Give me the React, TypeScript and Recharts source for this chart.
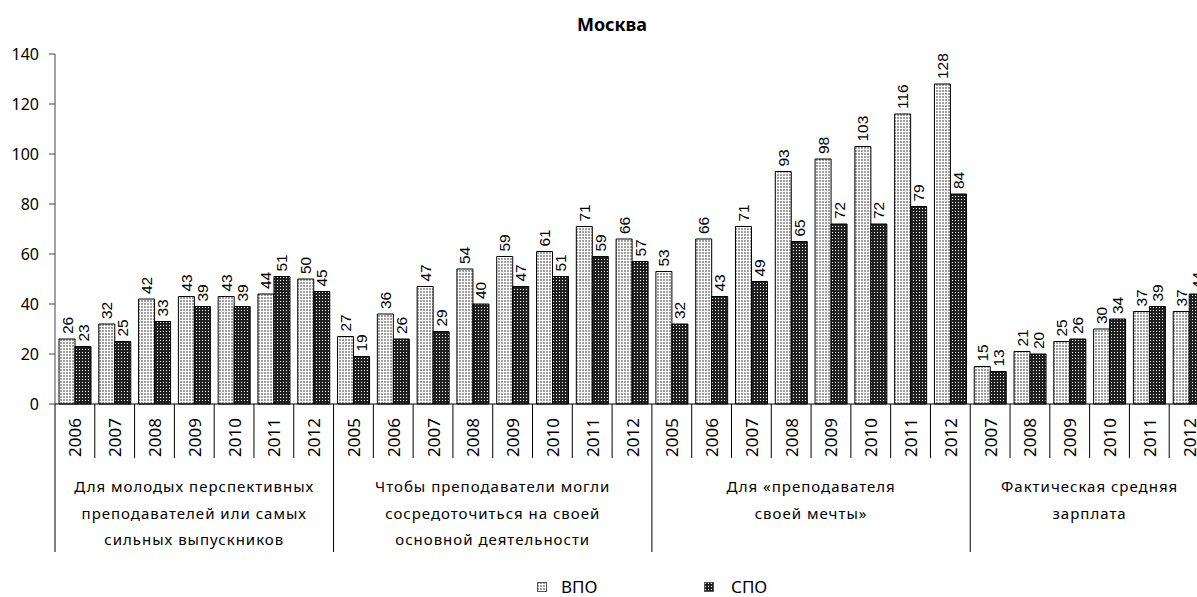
import React from "react";
import { Bar, BarChart, LabelList, Legend, XAxis, YAxis } from "recharts";

// categories
const years1 = ["2006", "2007", "2008", "2009", "2010", "2011", "2012"];
const years2 = ["2005", "2006", "2007", "2008", "2009", "2010", "2011", "2012"];
const years3 = ["2005", "2006", "2007", "2008", "2009", "2010", "2011", "2012"];
const years4 = ["2007", "2008", "2009", "2010", "2011", "2012"];

const groupLabels = [
  ["Для молодых перспективных", "преподавателей или самых", "сильных выпускников"],
  ["Чтобы преподаватели могли", "сосредоточиться на своей", "основной деятельности"],
  ["Для «преподавателя", "своей мечты»"],
  ["Фактическая средняя", "зарплата"],
];

// series values
const vpo1 = [26, 32, 42, 43, 43, 44, 50];
const spo1 = [23, 25, 33, 39, 39, 51, 45];
const vpo2 = [27, 36, 47, 54, 59, 61, 71, 66];
const spo2 = [19, 26, 29, 40, 47, 51, 59, 57];
const vpo3 = [53, 66, 71, 93, 98, 103, 116, 128];
const spo3 = [32, 43, 49, 65, 72, 72, 79, 84];
const vpo4 = [15, 21, 25, 30, 37, 37];
const spo4 = [13, 20, 26, 34, 39, 44];

const yTicks = [0, 20, 40, 60, 80, 100, 120, 140];

const groupYears = [years1, years2, years3, years4];
const groupVpo = [vpo1, vpo2, vpo3, vpo4];
const groupSpo = [spo1, spo2, spo3, spo4];

type Row = { id: string; year: string; group: number; first: boolean; vpo: number; spo: number };

const rows: Row[] = [];
groupYears.forEach((ys, g) => {
  ys.forEach((year, i) => {
    rows.push({ id: `${g}-${year}`, year, group: g, first: i === 0, vpo: groupVpo[g][i], spo: groupSpo[g][i] });
  });
});

const CHART_W = 1209;
const CHART_H = 597;
const Y_W = 55;
const X_H = 150;
const MARGIN = { top: 54, right: 0, left: 0, bottom: 43 };
const BAND = (CHART_W - Y_W - MARGIN.left - MARGIN.right) / rows.length;

const tickFont = "'Noto Sans', 'DejaVu Sans', sans-serif";
const labelFont = "'Liberation Sans Narrow', 'Liberation Sans', Arial, sans-serif";

function YearTick(props: any) {
  const { x, y, payload } = props;
  const row = rows.find((r) => r.id === payload.value);
  if (!row) return null;
  const left = x - BAND / 2;
  const isLast = row.id === rows[rows.length - 1].id;
  const count = groupYears[row.group].length;
  return (
    <g>
      <line x1={left} y1={y} x2={left} y2={row.first ? y + 148 : y + 54} stroke="#000" strokeWidth={1} />
      {isLast && <line x1={x + BAND / 2} y1={y} x2={x + BAND / 2} y2={y + 148} stroke="#000" />}
      <text
        x={x}
        y={y + 14}
        transform={`rotate(-90 ${x} ${y + 14})`}
        textAnchor="end"
        dominantBaseline="central"
        fontFamily={tickFont}
        fontSize={17}
        fill="#000"
      >
        {row.year}
      </text>
      {row.first && (
        <text
          x={left + (count * BAND) / 2}
          y={y + 88}
          textAnchor="middle"
          fontFamily={tickFont}
          fontSize={15}
          letterSpacing={1}
          fill="#000"
        >
          {groupLabels[row.group].map((ln, i) => (
            <tspan key={i} x={left + (count * BAND) / 2} dy={i === 0 ? 0 : 26.5}>
              {ln}
            </tspan>
          ))}
        </text>
      )}
    </g>
  );
}

function ValueLabel(props: any) {
  const { x, y, width, value } = props;
  const cx = x + width / 2;
  const ty = y - 5;
  return (
    <text
      x={cx}
      y={ty}
      transform={`rotate(-90 ${cx} ${ty})`}
      textAnchor="start"
      dominantBaseline="central"
      fontFamily={labelFont}
      fontSize={15.5}
      fill="#000"
    >
      {value}
    </text>
  );
}

function LegendContent() {
  const item = (fill: string, label: string, left: number, textLeft: number) => (
    <>
      <svg style={{ position: "absolute", left, top: 7 }} width={10} height={10}>
        <rect x={0.5} y={0.5} width={9} height={9} fill={fill} stroke="#555" strokeWidth={1} />
      </svg>
      <span style={{ position: "absolute", left: textLeft, top: 1, fontFamily: tickFont, fontSize: 17, lineHeight: "22px" }}>
        {label}
      </span>
    </>
  );
  return (
    <div style={{ position: "relative", height: 22 }}>
      {item("url(#pVpo)", "ВПО", 537, 561)}
      {item("url(#pSpo)", "СПО", 704, 731)}
    </div>
  );
}

export default function App() {
  return (
    <div style={{ position: "fixed", left: 0, top: 0, width: 1197, height: 597, overflow: "hidden", background: "#fff" }}>
      <svg style={{ position: "absolute", left: 0, top: 0 }} width={1197} height={40}>
        <text x={612} y={31} textAnchor="middle" fontFamily={tickFont} fontWeight="bold" fontSize={18} fill="#000">
          Москва
        </text>
      </svg>
      <BarChart width={CHART_W} height={CHART_H} data={rows} margin={MARGIN} barGap={0}>
        <defs>
          <pattern id="pVpo" width={3} height={3} patternUnits="userSpaceOnUse">
            <rect width={3} height={3} fill="#ffffff" />
            <rect width={2} height={2} fill="#a0a0a0" />
          </pattern>
          <pattern id="pSpo" width={3} height={3} patternUnits="userSpaceOnUse">
            <rect width={3} height={3} fill="#202020" />
            <rect x={1} y={1} width={1} height={1} fill="#ffffff" />
          </pattern>
        </defs>
        <XAxis
          dataKey="id"
          height={X_H}
          interval={0}
          tickLine={false}
          tickSize={0}
          tickMargin={0}
          axisLine={{ stroke: "#000" }}
          tick={<YearTick />}
        />
        <YAxis
          width={Y_W}
          domain={[0, 140]}
          ticks={yTicks}
          interval={0}
          tickSize={6}
          tickMargin={10}
          axisLine={{ stroke: "#444" }}
          tickLine={{ stroke: "#444" }}
          tick={{ fill: "#000", fontSize: 16, fontFamily: tickFont }}
        />
        <Legend
          layout="horizontal"
          verticalAlign="middle"
          align="center"
          wrapperStyle={{ top: 575, left: 0, width: CHART_W }}
          content={<LegendContent />}
        />
        <Bar dataKey="vpo" name="ВПО" fill="url(#pVpo)" stroke="#000" strokeWidth={1} barSize={16} isAnimationActive={false}>
          <LabelList dataKey="vpo" content={<ValueLabel />} />
        </Bar>
        <Bar dataKey="spo" name="СПО" fill="url(#pSpo)" stroke="#000" strokeWidth={1} barSize={16} isAnimationActive={false}>
          <LabelList dataKey="spo" content={<ValueLabel />} />
        </Bar>
      </BarChart>
    </div>
  );
}
